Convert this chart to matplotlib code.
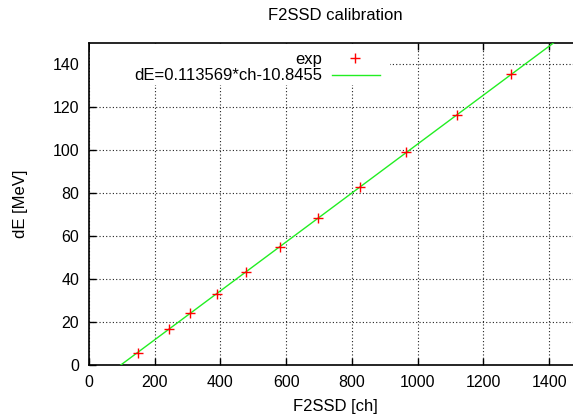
import matplotlib
matplotlib.use("Agg")
import matplotlib.pyplot as plt
import numpy as np
from matplotlib.lines import Line2D
from matplotlib.patches import Rectangle

# data
ch = [150, 244, 308, 388, 477, 581, 697, 826, 965, 1119, 1284]
dE = [5.9, 16.7, 24.2, 33.1, 43.5, 55.1, 68.2, 82.9, 99.2, 116.3, 135.1]
slope = 0.113569
intercept = -10.8455
xticks = [0, 200, 400, 600, 800, 1000, 1200, 1400]
yticks = [0, 20, 40, 60, 80, 100, 120, 140]

plt.rcParams['font.family'] = ['Liberation Sans', 'DejaVu Sans']
FS = 12
TFS = 11.5
plt.rcParams['font.size'] = FS

W, H = 573, 420
fig = plt.figure(figsize=(W / 100, H / 100), dpi=100)
left, right, top, bottom = 89, 582, 43.3, 365.3
ax = fig.add_axes([left / W, 1 - bottom / H, (right - left) / W, (bottom - top) / H])

ax.set_xlim(0, 1500)
ax.set_ylim(0, 149.5)
ax.set_xticks(xticks)
ax.set_yticks(yticks)

for s in ['left', 'bottom', 'top']:
    ax.spines[s].set_linewidth(1.2)
ax.spines['right'].set_visible(False)
ax.tick_params(direction='in', length=5, width=1, top=True, right=False, labelsize=TFS)
ax.tick_params(axis='x', pad=7)
ax.tick_params(axis='y', pad=7)
ax.grid(True, color='#222222', linestyle=(0, (1, 2)), linewidth=0.8)
ax.set_axisbelow(True)

xf = np.array([0, 1500])
ax.plot(xf, slope * xf + intercept, color='#22ee22', lw=1.0, zorder=3)
ax.plot(ch, dE, linestyle='none', marker='+', color='red', markersize=6.5, mew=1.0, zorder=4)

# key (gnuplot style)
tr = ax.transAxes
def px2ax(x, y):
    return ((x - left) / (right - left), (bottom - y) / (bottom - top))
x0, y0 = px2ax(89.5, 44)
x1, y1 = px2ax(390, 85)
ax.add_patch(Rectangle((x0, y1), x1 - x0, y0 - y1, transform=tr, facecolor='white',
                       edgecolor='none', zorder=2.5))
tx, ty1 = px2ax(322, 60)
_, ty2 = px2ax(322, 75.5)
ax.text(tx, ty1, 'exp', transform=tr, ha='right', va='center', fontsize=FS, zorder=5)
ax.text(tx, ty2, 'dE=0.113569*ch-10.8455', transform=tr, ha='right', va='center', fontsize=FS, zorder=5)
mx, _ = px2ax(355, 0)
sx0, _ = px2ax(332, 0)
sx1, _ = px2ax(380, 0)
_, my = px2ax(0, 58.5)
ax.add_line(Line2D([mx], [my], transform=tr, marker='+', color='red', markersize=6.5, mew=1.0,
                   linestyle='none', zorder=5))
ax.add_line(Line2D([sx0, sx1], [ty2, ty2], transform=tr, color='#22ee22', lw=1.0, zorder=5))

fig.text(335.5 / W, 1 - 15 / H, 'F2SSD calibration', ha='center', va='center', fontsize=FS)
fig.text(335.5 / W, 1 - 407 / H, 'F2SSD [ch]', ha='center', va='center', fontsize=FS)
fig.text(20 / W, 1 - 204 / H, 'dE [MeV]', ha='center', va='center', rotation=90, fontsize=FS)

fig.savefig('out.png', dpi=100)
